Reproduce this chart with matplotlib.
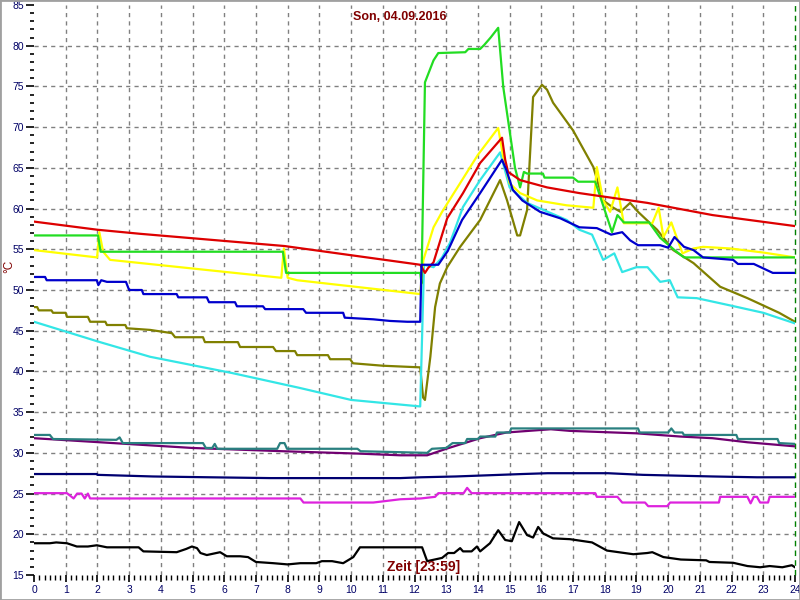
import matplotlib
matplotlib.use("Agg")
import matplotlib.pyplot as plt
from matplotlib.patches import Rectangle
from matplotlib.ticker import MultipleLocator

plt.rcParams["font.family"] = ["Liberation Sans", "DejaVu Sans"]

# Messwerte (Stunde, °C)
red_t = [0, 2.0, 3.35, 7.9, 12.18, 12.33, 12.43, 12.6, 13.03, 13.53, 14.07, 14.76, 14.86, 14.95,
         15.33, 16.18, 17.2, 19.34, 21.4, 24]
red_v = [58.4, 57.4, 56.9, 55.4, 53.1, 52.1, 52.7, 53.4, 58.8, 61.9, 65.6, 68.7, 66.0, 64.5,
         63.5, 62.6, 61.9, 60.7, 59.2, 57.85]

green_t = [0, 2.02, 2.1, 7.85, 7.95, 12.18, 12.22, 12.33, 12.6, 12.75, 13.6, 13.7, 14.07, 14.2,
           14.4, 14.64, 14.8, 15.17, 15.33, 15.45, 15.55, 16.05, 16.1, 17.0, 17.16, 17.7, 18.23,
           18.4, 18.6, 19.4, 19.75, 20.2, 20.5, 24]
green_v = [56.7, 56.7, 54.7, 54.7, 52.1, 52.1, 50.8, 75.5, 78.2, 79.1, 79.2, 79.6, 79.6, 80.1,
           81.0, 82.2, 74.9, 65.0, 62.6, 64.5, 64.3, 64.3, 63.8, 63.8, 63.3, 63.3, 57.1,
           59.2, 58.3, 58.3, 56.4, 54.9, 54.0, 54.0]

yellow_t = [0, 1.99, 2.06, 2.18, 2.4, 7.8, 7.88, 8.0, 8.3, 12.18, 12.28, 12.6, 12.87, 13.5, 14.0,
            14.64, 14.8, 15.0, 15.33, 15.87, 16.8, 17.64, 17.75, 17.95, 18.17, 18.4, 18.6, 19.5,
            19.7, 19.85, 20.1, 20.45, 20.8, 21.1, 21.96, 23.0, 24]
yellow_v = [54.9, 54.0, 57.1, 54.7, 53.7, 51.5, 55.1, 51.5, 51.2, 49.5, 53.7, 57.7, 59.6, 63.5, 66.6,
            69.9, 66.3, 63.1, 61.9, 61.0, 60.4, 60.1, 65.1, 61.0, 59.6, 62.6, 58.2, 58.2,
            60.1, 56.5, 58.3, 54.5, 55.1, 55.3, 55.1, 54.6, 54.0]

blue_t = [0, 0.35, 0.4, 1.98, 2.03, 2.12, 2.3, 2.9, 3.0, 3.4, 3.45, 4.5, 4.55, 5.45, 5.52, 6.34,
          6.4, 7.22, 7.29, 8.49, 8.58, 9.75, 9.8, 10.7, 11.23, 11.77, 12.18, 12.22, 12.75, 13.05,
          13.5, 14.07, 14.76, 14.9, 15.1, 15.4, 15.96, 16.6, 17.2, 17.75, 18.2, 18.55, 18.8,
          19.05, 19.75, 20.0, 20.2, 20.5, 20.8, 21.1, 22.05, 22.2, 22.7, 23.3, 24]
blue_v = [51.6, 51.6, 51.2, 51.2, 50.6, 51.2, 51.0, 51.0, 50.0, 50.0, 49.5, 49.5, 49.1, 49.1, 48.5, 48.5,
          48.0, 48.0, 47.65, 47.65, 47.2, 47.2, 46.6, 46.4, 46.2, 46.1, 46.1, 53.1, 53.1, 54.8,
          58.6, 61.9, 66.0, 64.7, 62.3, 61.0, 59.6, 58.8, 57.7, 57.6, 56.8, 57.1, 56.1,
          55.5, 55.5, 55.2, 56.5, 55.3, 54.9, 54.0, 53.7, 53.2, 53.2, 52.1, 52.1]

cyan_t = [0, 2.08, 3.66, 6.25, 8.35, 10.0, 12.18, 12.3, 12.6, 12.87, 13.12, 13.53, 14.07, 14.7,
          15.0, 15.55, 16.8, 17.2, 17.6, 17.95, 18.3, 18.55, 19.0, 19.35, 19.75, 20.05, 20.3,
          20.9, 21.96, 23.0, 24]
cyan_v = [46.1, 43.6, 41.8, 39.8, 38.0, 36.5, 35.7, 53.1, 52.8, 54.0, 55.8, 60.2, 63.5, 66.9,
          62.6, 60.7, 58.6, 57.4, 56.8, 53.7, 54.5, 52.2, 52.8, 52.8, 51.0, 51.2, 49.1,
          49.0, 48.1, 47.2, 45.9]

olive_t = [0, 0.1, 0.15, 0.55, 0.6, 1.0, 1.04, 1.7, 1.77, 2.25, 2.3, 2.88, 2.93, 3.66, 4.35, 4.45,
           5.33, 5.39, 6.43, 6.5, 7.54, 7.63, 8.23, 8.3, 9.27, 9.34, 9.97, 10.06, 11.0, 12.18,
           12.27, 12.33, 12.5, 12.65, 12.8, 13.03, 13.44, 14.07, 14.7, 14.92, 15.24, 15.33, 15.55,
           15.74, 16.02, 16.18, 16.37, 17.0, 17.64, 17.95, 18.27, 18.5, 18.8, 19.05, 19.65,
           20.16, 20.8, 21.64, 22.5, 23.5, 24]
olive_v = [47.9, 47.9, 47.5, 47.5, 47.2, 47.2, 46.7, 46.7, 46.1, 46.1, 45.7, 45.7, 45.3, 45.1, 44.7, 44.2,
           44.2, 43.6, 43.6, 43.0, 43.0, 42.5, 42.5, 42.0, 42.0, 41.5, 41.5, 41.0, 40.7, 40.5,
           36.8, 36.5, 41.8, 47.9, 50.8, 52.8, 55.3, 58.6, 63.5, 61.0, 56.7, 56.7, 59.8,
           73.7, 75.2, 74.6, 73.0, 69.6, 65.1, 61.0, 60.1, 59.6, 60.7, 59.6, 57.4,
           54.9, 53.3, 50.4, 49.0, 47.2, 46.1]

teal_t = [0, 0.5, 0.6, 2.6, 2.7, 2.8, 5.33, 5.42, 5.62, 5.7, 5.78, 7.67, 7.76, 7.9, 7.98, 10.2,
          10.3, 12.4, 12.55, 13.0, 13.2, 13.6, 13.66, 14.0, 14.07, 14.55, 14.6, 15.0, 15.05,
          19.05, 19.1, 20.0, 20.1, 20.2, 20.45, 20.5, 22.15, 22.2, 23.45, 23.5, 24]
teal_v = [32.2, 32.2, 31.7, 31.6, 31.9, 31.2, 31.2, 30.6, 30.6, 31.1, 30.5, 30.5, 31.2, 31.2, 30.5, 30.5,
          30.2, 30.0, 30.5, 30.6, 31.2, 31.2, 31.7, 31.7, 32.0, 32.0, 32.5, 32.5, 33.0,
          33.0, 32.5, 32.5, 33.0, 32.5, 32.5, 32.2, 32.2, 31.7, 31.7, 31.2, 31.1]

purple_t = [0, 2.08, 5.0, 7.85, 10.3, 11.55, 12.4, 13.0, 14.07, 14.9, 16.3, 16.9, 19.0, 20.4,
            21.4, 22.5, 24]
purple_v = [31.8, 31.3, 30.6, 30.2, 29.9, 29.7, 29.7, 30.5, 31.8, 32.5, 32.9, 32.7, 32.4, 32.0,
            31.8, 31.3, 30.8]

navy_t = [0, 1.98, 2.0, 3.75, 5.55, 7.45, 11.55, 12.2, 13.3, 15.4, 16.2, 18.1, 19.2, 21.4, 22.8, 24]
navy_v = [27.4, 27.4, 27.3, 27.1, 27.0, 26.9, 26.9, 27.0, 27.1, 27.4, 27.5, 27.5, 27.3, 27.1, 27.0, 27.0]

magenta_t = [0, 1.04, 1.25, 1.36, 1.5, 1.6, 1.7, 1.77, 8.4, 8.5, 10.7, 11.55, 12.2, 12.65, 12.75,
             13.55, 13.66, 13.8, 17.7, 17.75, 18.4, 18.55, 19.27, 19.37, 19.97, 20.06, 21.6,
             21.64, 22.5, 22.6, 22.7, 22.8, 22.9, 23.15, 23.2, 24]
magenta_v = [25.05, 25.05, 24.4, 25.0, 25.0, 24.4, 25.0, 24.4, 24.4, 23.9, 23.9, 24.3, 24.4, 24.6, 25.05,
             25.05, 25.7, 25.05, 25.05, 24.6, 24.6, 23.9, 23.9, 23.45, 23.45, 23.9, 23.9,
             24.6, 24.6, 23.8, 24.6, 24.6, 23.9, 23.9, 24.6, 24.6]

black_t = [0, 0.5, 0.7, 1.04, 1.35, 1.7, 1.98, 2.3, 3.3, 3.45, 4.5, 4.8, 4.98, 5.14, 5.25, 5.45,
           5.87, 6.08, 6.5, 6.75, 7.0, 7.55, 8.0, 8.4, 8.9, 9.08, 9.4, 9.75, 10.07, 10.28,
           12.24, 12.4, 12.87, 13.06, 13.25, 13.44, 13.53, 13.8, 13.97, 14.07, 14.38, 14.64,
           14.86, 15.07, 15.3, 15.55, 15.74, 15.9, 16.06, 16.37, 16.9, 17.6, 18.07, 18.9,
           19.34, 19.5, 19.85, 20.4, 21.2, 21.3, 22.05, 22.5, 22.9, 23.2, 23.6, 23.9, 24]
black_v = [18.9, 18.9, 19.0, 18.9, 18.5, 18.5, 18.65, 18.4, 18.4, 17.9, 17.8, 18.2, 18.5, 18.3, 17.7, 17.45,
           17.8, 17.3, 17.3, 17.2, 16.6, 16.45, 16.3, 16.45, 16.45, 16.7, 16.7, 16.45, 17.2, 18.4,
           18.4, 16.7, 17.1, 17.7, 17.7, 18.3, 17.9, 17.9, 18.5, 17.9, 18.9, 20.5,
           19.3, 19.15, 21.5, 19.9, 19.6, 20.9, 20.1, 19.5, 19.4, 19.0, 18.0, 17.55,
           17.7, 17.8, 17.2, 16.9, 16.8, 16.6, 16.5, 16.1, 15.95, 16.1, 15.95, 16.2, 15.95]

title_text = "Son, 04.09.2016"
zeit_text = "Zeit [23:59]"

fig = plt.figure(figsize=(8, 6), dpi=100)
ax = fig.add_axes([34 / 800, 25 / 600, 761 / 800, 570 / 600])
ax.set_xlim(0, 24)
ax.set_ylim(15, 85)

# Gitter
ax.vlines(range(1, 24), 15, 85, colors="#808080", linestyles=(0, (3, 3)), lw=1, zorder=0)
ax.hlines(range(20, 85, 5), 0, 24, colors="#808080", linestyles=(0, (3, 3)), lw=1, zorder=0)
ax.axvline(24, color="#008000", ls=(0, (4, 3)), lw=1, clip_on=False)

lw = 1.6
ax.plot(black_t, black_v, color="#000000", lw=lw)
ax.plot(magenta_t, magenta_v, color="#dd22dd", lw=lw)
ax.plot(navy_t, navy_v, color="#000070", lw=lw)
ax.plot(purple_t, purple_v, color="#700070", lw=lw)
ax.plot(teal_t, teal_v, color="#2a8080", lw=lw)
ax.plot(olive_t, olive_v, color="#808000", lw=lw)
ax.plot(cyan_t, cyan_v, color="#33e6e6", lw=lw)
ax.plot(yellow_t, yellow_v, color="#ffff00", lw=lw)
ax.plot(green_t, green_v, color="#22dd22", lw=lw)
ax.plot(red_t, red_v, color="#dd0000", lw=lw)
ax.plot(blue_t, blue_v, color="#0000cc", lw=lw)

for s in ax.spines.values():
    s.set_visible(False)

ax.xaxis.set_major_locator(MultipleLocator(1))
ax.xaxis.set_minor_locator(MultipleLocator(1 / 6))
ax.yaxis.set_major_locator(MultipleLocator(5))
ax.yaxis.set_minor_locator(MultipleLocator(1))
ax.tick_params(axis="both", which="major", labelsize=7.5, labelcolor="#000066", width=1.2)
ax.tick_params(axis="y", which="major", length=6, pad=1)
ax.tick_params(axis="y", which="minor", length=3, width=1.2)
ax.tick_params(axis="x", which="major", length=5, pad=2)
ax.tick_params(axis="x", which="minor", length=3.5, width=1)

ax.text(400 / 800, 1 - 17 / 600, title_text, transform=fig.transFigure, ha="center", va="center",
        fontsize=9, fontweight="bold", color="#800000")
ax.text(11.13, 15.15, zeit_text, ha="left", va="bottom", fontsize=10, fontweight="bold", color="#800000")
fig.text(0.011, 1 - 266 / 600, "°C", rotation=90, ha="center", va="center", fontsize=8.5, color="#800000")

fig.patches.append(Rectangle((0, 0), 1, 1, transform=fig.transFigure, fill=False,
                             edgecolor="#a0a0a0", lw=2))

fig.savefig("out.png", dpi=100)
